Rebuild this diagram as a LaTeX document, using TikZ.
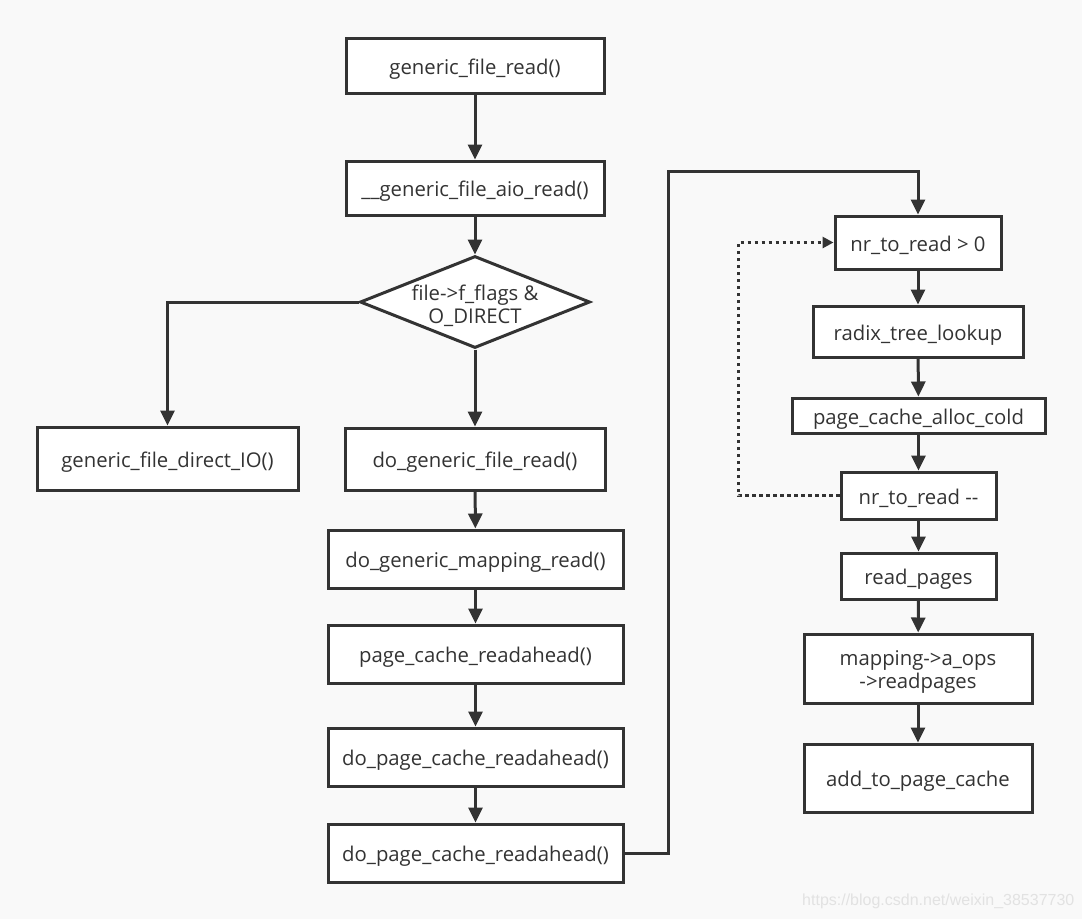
\documentclass[tikz,border=0pt]{standalone}
\usepackage{fontspec}
\setmainfont{Open Sans}
\usetikzlibrary{arrows.meta,shapes.geometric}
\definecolor{bg}{HTML}{F9F9F9}
\definecolor{ln}{HTML}{333333}
\definecolor{wm}{HTML}{E2E2E2}
\begin{document}
\begin{tikzpicture}[x=1pt,y=-1pt,
  lbl/.style={font=\fontsize{20.3}{23}\selectfont,text=ln},
  box/.style={lbl,draw=ln,line width=3pt,fill=white,minimum width=#1,inner sep=0pt,align=center,text height=19.5pt,text depth=2pt},
  shp/.style={draw=ln,line width=3pt,fill=white,inner sep=0pt},
  txt/.style={lbl,align=center,inner sep=0pt,yshift=-3.5pt},
  arr/.style={draw=ln,line width=3pt,-{Triangle[length=15pt,width=14pt]}},
  dots/.style={draw=ln,line width=3pt,dash pattern=on 3.5pt off 3.5pt,-{Triangle[length=11pt,width=11pt]}}]
\fill[bg] (0,0) rectangle (1082,919);
\useasboundingbox (0,0) rectangle (1082,919);
% left column
\node[box=258pt,minimum height=55pt] (a) at (475,65.5) {generic\_file\_read()};
\node[box=258pt,minimum height=54pt] (b) at (475,188) {\_\_generic\_file\_aio\_read()};
\node[shp,diamond,aspect=2.5,minimum width=230pt,minimum height=92pt] (c) at (475,302) {};
\node[txt] (ct) at (c) {file->f\_flags \&\\O\_DIRECT};
\node[box=261pt,minimum height=63pt] (d) at (167.5,458.5) {generic\_file\_direct\_IO()};
\node[box=260pt,minimum height=62pt] (e) at (475,459) {do\_generic\_file\_read()};
\node[box=295pt,minimum height=58pt] (f) at (475.5,559) {do\_generic\_mapping\_read()};
\node[box=295pt,minimum height=58pt] (g) at (475.5,654) {page\_cache\_readahead()};
\node[box=295pt,minimum height=58pt] (h) at (475.5,757) {do\_page\_cache\_readahead()};
\node[box=295pt,minimum height=58pt] (i) at (475.5,853) {do\_page\_cache\_readahead()};
% right column
\node[box=166pt,minimum height=53pt] (j) at (918,242.5) {nr\_to\_read > 0};
\node[box=210pt,minimum height=51pt] (k) at (918,331.5) {radix\_tree\_lookup};
\node[box=253pt,minimum height=35pt] (l) at (918.5,415.5) {page\_cache\_alloc\_cold};
\node[box=155pt,minimum height=47pt] (m) at (918.5,495.5) {nr\_to\_read -{}-};
\node[box=155pt,minimum height=46pt] (n) at (918.5,576) {read\_pages};
\node[shp,rectangle,minimum width=228pt,minimum height=69pt] (o) at (918,668.5) {};
\node[txt] (ot) at (o) {mapping->a\_ops\\->readpages};
\node[box=228pt,minimum height=68pt] (p) at (918,778) {add\_to\_page\_cache};
% connectors
\draw[arr] (a) -- (b);
\draw[arr] (b) -- (c);
\draw[arr] (c.west) -| (d.north);
\draw[arr] (c) -- (e);
\draw[arr] (e) -- (f);
\draw[arr] (f) -- (g);
\draw[arr] (g) -- (h);
\draw[arr] (h) -- (i);
\coordinate (t1) at (668,171);
\draw[arr] (i.east) -| (t1) -| (j.north);
\draw[arr] (j) -- (k);
\draw[arr] (k) -- (l);
\draw[arr] (l) -- (m);
\draw[arr] (m) -- (n);
\draw[arr] (n) -- (o);
\draw[arr] (o) -- (p);
\coordinate (t2) at (738,495.5);
\draw[dots] (m.west) -- (t2) |- (j.west);
% watermark
\node[anchor=west,inner sep=0pt,text=wm,font=\fontspec{Liberation Sans}\fontsize{16}{18}\selectfont] (w) at (802,901) {https://blog.csdn.net/weixin\_38537730};
\end{tikzpicture}
\end{document}
